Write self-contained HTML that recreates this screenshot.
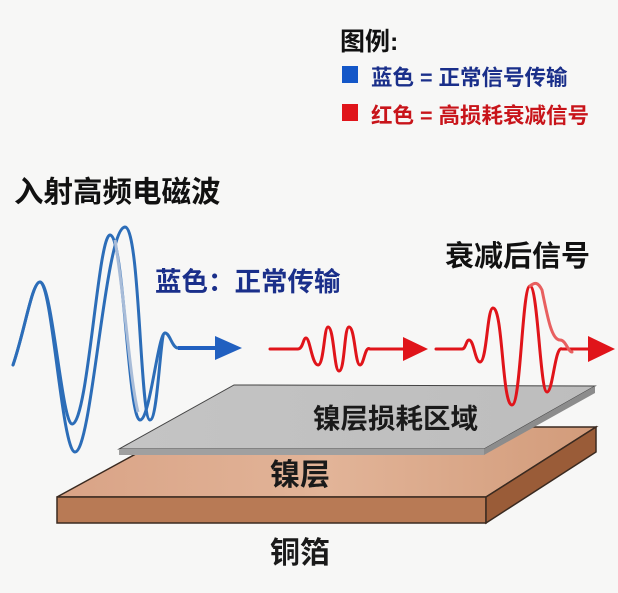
<!DOCTYPE html>
<html><head><meta charset="utf-8"><style>
html,body{margin:0;padding:0;background:#f7f7f6;}
svg{display:block}
text{font-family:"Liberation Sans","Noto Sans CJK SC",sans-serif;font-weight:bold}
</style></head><body>
<svg width="618" height="593" viewBox="0 0 618 593" xmlns="http://www.w3.org/2000/svg">
<defs>
<linearGradient id="cu" x1="0" y1="0" x2="1" y2="0"><stop offset="0" stop-color="#d9a386"/><stop offset="0.5" stop-color="#e2b498"/><stop offset="1" stop-color="#d29b7a"/></linearGradient>
<linearGradient id="gr" x1="0" y1="0" x2="1" y2="0"><stop offset="0" stop-color="#c4c4c4"/><stop offset="1" stop-color="#bdbdbd"/></linearGradient>
</defs>
<!-- legend -->
<text x="340" y="50" font-size="25" fill="#111">图例:</text>
<rect x="342" y="66" width="16" height="17" fill="#1457c8"/>
<text x="371" y="85" font-size="21.5" fill="#1a2f8a">蓝色 = 正常信号传输</text>
<rect x="342" y="104" width="16" height="17" fill="#e0141a"/>
<text x="371" y="123" font-size="21.5" fill="#c8141a">红色 = 高损耗衰减信号</text>
<text x="14" y="202" font-size="29.5" fill="#111">入射高频电磁波</text>
<text x="155" y="291" font-size="26.5" fill="#1a2f8a">蓝色：正常传输</text>
<text x="445" y="266" font-size="29" fill="#111">衰减后信号</text>
<!-- copper -->
<polygon points="57,497 185,427 596,427 486,497" fill="url(#cu)" stroke="#3a2a20" stroke-width="1.5"/>
<polygon points="57,497 486,497 486,523 57,523" fill="#b87a55" stroke="#3a2a20" stroke-width="1.5"/>
<polygon points="486,497 596,427 596,452 486,523" fill="#9a5c38" stroke="#3a2a20" stroke-width="1.5"/>
<!-- gray -->
<polygon points="119,449 234,385 595,386 484,449" fill="url(#gr)" stroke="#444" stroke-width="1"/>
<polygon points="119,449 484,449 484,455 119,455" fill="#a0a0a0"/>
<polygon points="484,449 595,386 595,393 484,455" fill="#8c8c8c"/>
<text x="313" y="428" font-size="27.5" fill="#1a1a1a">镍层损耗区域</text>
<text x="270" y="485" font-size="30" fill="#1a1a1a">镍层</text>
<text x="270" y="563" font-size="30" fill="#1a1a1a">铜箔</text>
<!-- blue waves -->
<g fill="none" stroke="#2c6db8" stroke-width="3" stroke-linecap="round">
<path d="M13,365 C25,330 32,282 40,282 C52,282 62,452 75,452 C92,452 105,228 125,227 C140,227 140,420 150,420 C158,420 160,333 165,333 C170,333 172,348 178,348"/>
<path d="M13,365 C25,330 32,282 40,282 C52,282 62,424 72,424 C88,424 98,235 110,235 C124,235 128,420 140,420 C150,420 158,333 165,333"/>
</g>
<path d="M115,240 C125,300 130,380 138,412" fill="none" stroke="#a8bcd8" stroke-width="3"/>
<line x1="178" y1="348" x2="218" y2="348" stroke="#2160c0" stroke-width="4"/>
<polygon points="215,336 242,348 215,360" fill="#2160c0"/>
<!-- red waves -->
<g fill="none" stroke="#e0141a" stroke-width="3" stroke-linecap="round">
<path d="M270,349 L298,349 C303,349 303,338 306,338 C310,338 312,365 318,365 C324,365 324,327 328,327 C334,327 334,371 339,371 C345,371 344,327 349,327 C355,327 355,365 360,365 C364,365 365,345 370,349 L405,349"/>
<path d="M436,349 L462,349 C466,349 466,340 469,340 C474,340 475,362 480,362 C487,362 487,308 493,308 C503,308 502,405 512,405 C521,405 522,286 530,286 C538,286 540,392 547,392 C553,392 555,345 562,349 L588,349"/>
<path d="M530,286 C535,282 538,282 542,290 C548,320 552,340 560,340 C566,340 568,352 572,352" stroke="#e86060"/>
</g>
<polygon points="403,337 428,349 403,361" fill="#e0141a"/>
<polygon points="588,336 615,349 588,362" fill="#e0141a"/>
</svg>
</body></html>
